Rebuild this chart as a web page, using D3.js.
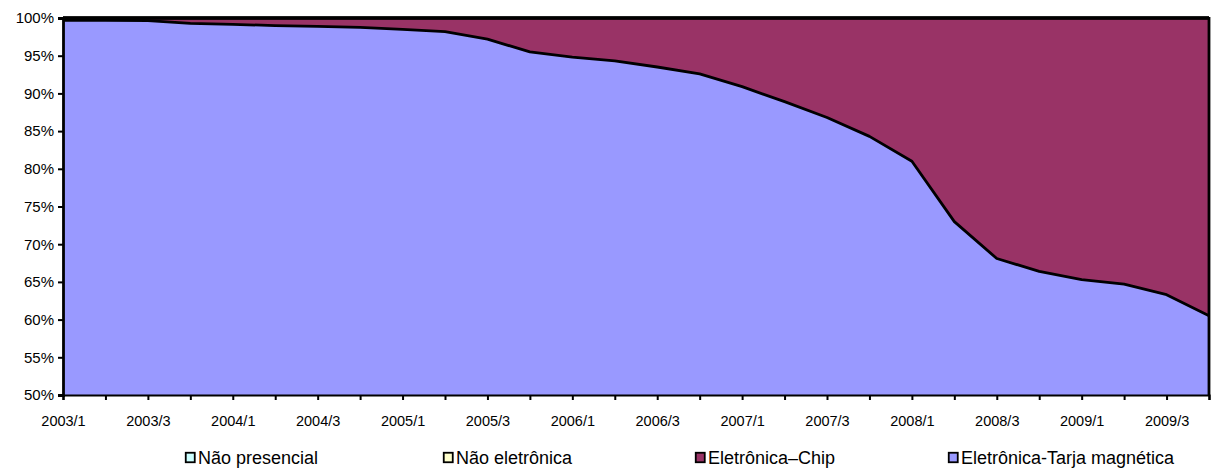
<!DOCTYPE html>
<html>
<head>
<meta charset="utf-8">
<script src="https://cdn.jsdelivr.net/npm/d3@7"></script>
<style>
  html, body { margin: 0; padding: 0; background: #fff; }
  svg { display: block; }
  text { font-family: "Liberation Sans", Arial, sans-serif; fill: #000; }
</style>
</head>
<body>
<svg id="chart" width="1214" height="468"></svg>
<script>
const quarters = ["2003/1","2003/2","2003/3","2003/4","2004/1","2004/2","2004/3","2004/4",
  "2005/1","2005/2","2005/3","2005/4","2006/1","2006/2","2006/3","2006/4",
  "2007/1","2007/2","2007/3","2007/4","2008/1","2008/2","2008/3","2008/4",
  "2009/1","2009/2","2009/3","2009/4"];
const tarja = [99.7, 99.7, 99.65, 99.3, 99.15, 99.0, 98.9, 98.75, 98.5, 98.2, 97.2, 95.5, 94.8, 94.3,
  93.5, 92.6, 90.9, 88.9, 86.8, 84.3, 81.0, 73.0, 68.1, 66.4, 65.3, 64.7, 63.3, 60.5];
const chip = [0.3, 0.3, 0.35, 0.7, 0.85, 1.0, 1.1, 1.25, 1.5, 1.8, 2.8, 4.5, 5.2, 5.7,
  6.5, 7.4, 9.1, 11.1, 13.2, 15.7, 19.0, 27.0, 31.9, 33.6, 34.7, 35.3, 36.7, 39.5];
const naoEletronica = [0,0,0,0,0,0,0,0,0,0,0,0,0,0,0,0,0,0,0,0,0,0,0,0,0,0,0,0];
const naoPresencial = [0,0,0,0,0,0,0,0,0,0,0,0,0,0,0,0,0,0,0,0,0,0,0,0,0,0,0,0];
const yTicks = [50,55,60,65,70,75,80,85,90,95,100];
const xLabels = ["2003/1","2003/3","2004/1","2004/3","2005/1","2005/3","2006/1","2006/3",
  "2007/1","2007/3","2008/1","2008/3","2009/1","2009/3"];

const seriesNames = ["Não presencial", "Não eletrônica", "Eletrônica–Chip", "Eletrônica-Tarja magnética"];
const colors = {"Não presencial":"#CCFFFF","Não eletrônica":"#FFFFCC","Eletrônica–Chip":"#993366","Eletrônica-Tarja magnética":"#9999FF"};

const rows = quarters.map((q, i) => ({
  q,
  "Eletrônica-Tarja magnética": tarja[i],
  "Eletrônica–Chip": chip[i],
  "Não eletrônica": naoEletronica[i],
  "Não presencial": naoPresencial[i]
}));

const L = 63, R = 1209, T = 18, B = 395;
const svg = d3.select("#chart");
const x = d3.scalePoint().domain(quarters).range([L, R]);
const y = d3.scaleLinear().domain([50, 100]).range([B, T]);

const stackKeys = ["Eletrônica-Tarja magnética", "Eletrônica–Chip", "Não eletrônica", "Não presencial"];
const stacked = d3.stack().keys(stackKeys)(rows);

svg.append("defs").append("clipPath").attr("id", "clip")
  .append("rect").attr("x", L).attr("y", T - 2).attr("width", R - L + 2).attr("height", B - T + 2);

const g = svg.append("g").attr("clip-path", "url(#clip)");
const area = d3.area().x(d => x(d.data.q)).y0(d => y(d[0])).y1(d => y(d[1]));
g.selectAll("path.area").data(stacked).join("path")
  .attr("class", "area")
  .attr("fill", d => colors[d.key])
  .attr("d", area);

const line = d3.line().x(d => x(d.data.q)).y(d => y(d[1]));
g.selectAll("path.edge").data(stacked).join("path")
  .attr("class", "edge")
  .attr("fill", "none")
  .attr("stroke", "#000")
  .attr("stroke-width", 2.8)
  .attr("stroke-linejoin", "round")
  .attr("d", line);

// right edge outline
svg.append("line").attr("x1", R).attr("x2", R).attr("y1", T - 1).attr("y2", B)
  .attr("stroke", "#000").attr("stroke-width", 2.8);

// x axis
const xAxis = svg.append("g").attr("transform", `translate(0,${B})`)
  .call(d3.axisBottom(x).tickSize(5).tickFormat(d => xLabels.includes(d) ? d : ""));
xAxis.select(".domain").attr("stroke", "#000").attr("stroke-width", 2.2);
xAxis.selectAll(".tick line").attr("stroke", "#000").attr("stroke-width", 2);
xAxis.selectAll(".tick text").attr("font-size", 14.5).attr("dy", 0).attr("y", 31)
  .attr("font-family", "'Liberation Sans', Arial, sans-serif");

// y axis
const yAxis = svg.append("g").attr("transform", `translate(${L},0)`)
  .call(d3.axisLeft(y).tickValues(yTicks).tickSize(5).tickFormat(d => d + "%"));
yAxis.select(".domain").attr("stroke", "#000").attr("stroke-width", 2.8);
yAxis.selectAll(".tick line").attr("stroke", "#000").attr("stroke-width", 2);
yAxis.selectAll(".tick text").attr("font-size", 15).attr("x", -9)
  .attr("font-family", "'Liberation Sans', Arial, sans-serif");

// legend
const legendX = [185, 443, 695, 948];
const lg = svg.append("g");
seriesNames.forEach((name, i) => {
  const it = lg.append("g").attr("transform", `translate(${legendX[i]},452)`);
  it.append("rect").attr("x", 0.75).attr("y", 0.75).attr("width", 9).attr("height", 9.5)
    .attr("fill", colors[name]).attr("stroke", "#000").attr("stroke-width", 1.8);
  it.append("text").attr("x", 13).attr("y", 11.8).attr("font-size", 18).text(name);
});
</script>
</body>
</html>
